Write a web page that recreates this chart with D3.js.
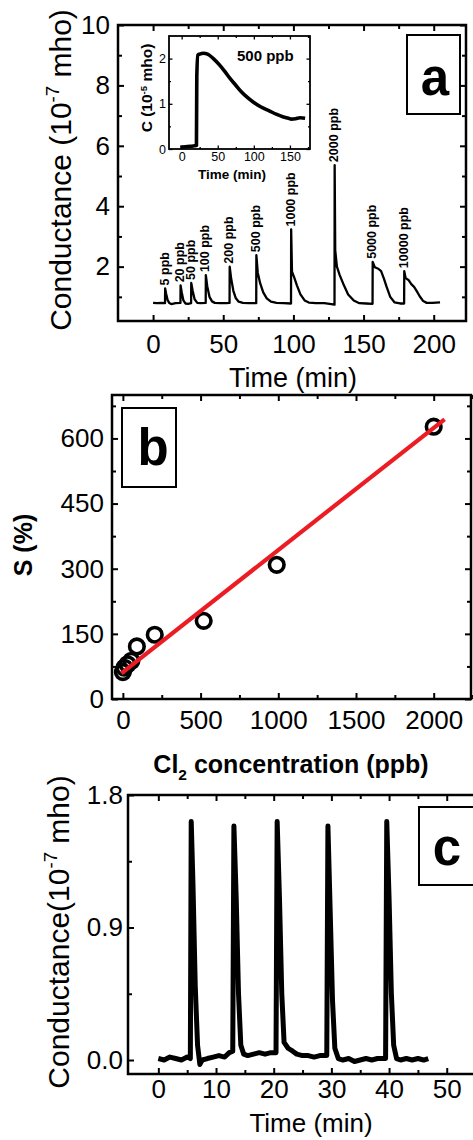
<!DOCTYPE html>
<html>
<head>
<meta charset="utf-8">
<script src="https://cdn.jsdelivr.net/npm/d3@7"></script>
<style>
  html, body { margin: 0; padding: 0; background: #fff; }
  svg { display: block; font-family: 'Liberation Sans', Arial, Helvetica, sans-serif; }
</style>
</head>
<body>
<svg id="chart" width="473" height="1140"></svg>
<script>
// ---- panel a: conductance response to Cl2 pulses (time min, 1e-7 mho)
var seriesA = [
  [0,0.80],[3,0.79],[6,0.80],[8.5,0.79],[8.6,1.28],[9.3,1.10],[10.3,0.90],[11.5,0.80],[13,0.76],[16,0.79],
  [19.5,0.80],[19.6,1.38],[20.4,1.15],[21.6,0.88],[23,0.78],[25,0.77],
  [27.1,0.79],[27.2,1.46],[28.2,1.20],[29.6,0.92],[31.5,0.80],[34,0.79],
  [37.5,0.80],[37.6,1.72],[38.6,1.35],[40.2,1.00],[42,0.85],[44,0.80],[48,0.79],[52,0.79],
  [54.5,0.80],[54.6,2.00],[55.6,1.62],[57.2,1.20],[59,0.95],[61,0.84],[64,0.80],[68,0.79],
  [73.5,0.79],[73.6,2.38],[74.6,1.80],[76.3,1.45],[78.5,1.15],[81,0.95],[84,0.84],[88,0.80],[93,0.79],
  [98.3,0.78],[98.4,3.23],[99,1.83],[100.5,1.65],[102.5,1.38],[105,1.08],[108,0.88],[111,0.81],[116,0.79],[122,0.79],[127,0.76],[129.3,0.74],
  [129.4,5.36],[129.8,2.55],[131,2.00],[133,1.72],[136,1.38],[139,1.08],[143,0.88],[147,0.79],[152,0.78],[156.4,0.77],
  [156.5,2.16],[158,1.98],[160.5,1.93],[162.5,1.85],[164.5,1.60],[166.5,1.32],[169,1.00],[172,0.82],[176,0.78],[178.9,0.78],
  [179,1.85],[180,1.62],[182,1.56],[184,1.42],[186,1.33],[188,1.18],[190,1.02],[192.5,0.86],[195,0.80],[199,0.80],[204.5,0.82]
];
var peakLabels = ['5 ppb', '20 ppb', '50 ppb', '100 ppb', '200 ppb', '500 ppb', '1000 ppb', '2000 ppb', '5000 ppb', '10000 ppb'];
var peakTimes = [8.6, 19.6, 27.2, 37.6, 54.6, 73.6, 98.4, 129.4, 156.5, 179];
var peakValues = [1.28, 1.38, 1.46, 1.72, 2.00, 2.38, 3.23, 5.36, 2.16, 1.85];

// inset: single 500 ppb pulse (1e-5 mho)
var insetTime = [-2, 5, 12, 18, 20.5, 21, 22.5, 25, 30, 36, 44, 53, 60, 67, 75, 83, 91, 99, 110, 122, 131, 141, 148, 152, 158, 164, 171];
var insetCond = [0.04, 0.05, 0.06, 0.07, 0.08, 1.60, 2.08, 2.10, 2.12, 2.10, 2.00, 1.85, 1.71, 1.56, 1.41, 1.26, 1.14, 1.04, 0.93, 0.84, 0.77, 0.71, 0.68, 0.66, 0.67, 0.69, 0.68];

// ---- panel b: sensitivity vs concentration
var concB = [0, 10, 30, 55, 90, 205, 520, 990, 2000];
var sensB = [62, 72, 80, 88, 121, 148, 180, 309, 627];
var fitConc = [-10, 2070];
var fitSens = [59, 644];

// ---- panel c: repeated 1000 ppb pulses
var seriesC = [
  [0,0.01],[1,0.00],[2,0.02],[3,0.01],[4,0.00],[5,0.02],[5.55,0.01],[5.7,1.62],[6.0,1.20],[6.4,0.50],[6.8,0.10],[7.2,-0.03],[7.6,0.00],
  [8.5,0.01],[9.5,0.02],[10.5,0.03],[11.5,0.02],[12.3,0.05],[12.9,0.06],[13.1,1.59],[13.5,1.10],[13.9,0.45],[14.3,0.10],[14.8,0.04],
  [15.5,0.03],[16.5,0.04],[17.5,0.05],[18.5,0.04],[19.5,0.05],[20.4,0.05],[20.6,1.62],[21.0,1.10],[21.4,0.45],[21.8,0.12],[22.5,0.08],
  [23.3,0.06],[24,0.04],[25,0.03],[26,0.03],[27,0.02],[28,0.03],[29.2,0.03],[29.4,1.59],[29.8,1.00],[30.2,0.40],[30.6,0.08],[31.2,0.01],
  [32,0.00],[33,0.01],[34,-0.01],[35,0.00],[36,0.01],[37,0.00],[38,0.01],[39.4,0.01],[39.6,1.62],[40.0,1.10],[40.4,0.45],[40.8,0.10],
  [41.3,0.01],[42,0.00],[43,0.01],[44,0.00],[45,0.01],[46,0.00],[46.8,0.01]
];

var svg = d3.select('#chart');
svg.append('rect').attr('width', 473).attr('height', 1140).attr('fill', '#fff');

function blank() { return ''; }

// framed box with inward ticks on all four sides
function drawFrame(g, x, y, o) {
  var xl = x.range()[0], xr = x.range()[1], yb = y.range()[0], yt = y.range()[1];
  function ax(fn, scale, vals, len, fmt, tx, ty, pad) {
    var a = fn(scale).tickValues(vals).tickSize(-len).tickPadding(pad || 0).tickFormat(fmt || blank);
    var s = g.append('g').attr('transform', 'translate(' + tx + ',' + ty + ')').call(a);
    s.attr('font-family', null).attr('font-size', null);
    s.select('.domain').remove();
    s.selectAll('line').attr('stroke', '#000').attr('stroke-width', o.tickW);
    s.selectAll('text').attr('font-size', o.fontSize).attr('fill', '#000');
  }
  ax(d3.axisBottom, x, o.xMajor, o.major, o.xFmt, 0, yb, o.xPad);
  ax(d3.axisBottom, x, o.xMinor, o.minor, null, 0, yb);
  ax(d3.axisTop, x, o.xMajor, o.major, null, 0, yt);
  ax(d3.axisTop, x, o.xMinor, o.minor, null, 0, yt);
  ax(d3.axisLeft, y, o.yMajor, o.major, o.yFmt, xl, 0, o.yPad);
  ax(d3.axisLeft, y, o.yMinor, o.minor, null, xl, 0);
  ax(d3.axisRight, y, o.yMajor, o.major, null, xr, 0);
  ax(d3.axisRight, y, o.yMinor, o.minor, null, xr, 0);
  g.append('rect')
    .attr('x', xl).attr('y', yt)
    .attr('width', xr - xl).attr('height', yb - yt)
    .attr('fill', 'none').attr('stroke', '#000').attr('stroke-width', o.frameW);
}

// text with super/subscript pieces
function addRich(t, parts, size) {
  var shift = 0;
  parts.forEach(function (p) {
    var ts = t.append('tspan').text(p[0]);
    var target = p[1] === 'sup' ? -0.38 * size : (p[1] === 'sub' ? 0.28 * size : 0);
    if (p[1]) ts.attr('font-size', size * 0.62);
    ts.attr('dy', target - shift);
    shift = target;
  });
}

function yTitle(g, cx, cy, size, weight, parts) {
  var t = g.append('text')
    .attr('transform', 'translate(' + cx + ',' + cy + ') rotate(-90)')
    .attr('y', size * 0.35)
    .attr('text-anchor', 'middle')
    .attr('font-size', size)
    .attr('font-weight', weight);
  addRich(t, parts, size);
}

function labelBox(g, bx, by, bw, bh, letter, lx, ly) {
  g.append('rect').attr('x', bx).attr('y', by).attr('width', bw).attr('height', bh)
    .attr('fill', '#fff').attr('stroke', '#000').attr('stroke-width', 2);
  g.append('text').attr('x', lx).attr('y', ly).attr('text-anchor', 'middle')
    .attr('font-size', 51).attr('font-weight', 'bold').text(letter);
}

// ================= panel a =================
var gA = svg.append('g');
var xA = d3.scaleLinear().domain([-25, 223]).range([118, 466]);
var yA = d3.scaleLinear().domain([0.2, 10]).range([321, 25]);
drawFrame(gA, xA, yA, {
  xMajor: [0, 50, 100, 150, 200], xMinor: [25, 75, 125, 175],
  yMajor: [2, 4, 6, 8, 10], yMinor: [1, 3, 5, 7, 9],
  xFmt: d3.format('d'), yFmt: d3.format('d'),
  major: 6, minor: 4, tickW: 2, frameW: 2.5, fontSize: 26, xPad: 14, yPad: 8
});
gA.append('path')
  .datum(seriesA)
  .attr('fill', 'none').attr('stroke', '#000').attr('stroke-width', 2.3).attr('stroke-linejoin', 'round')
  .attr('d', d3.line().x(function (d) { return xA(d[0]); }).y(function (d) { return yA(d[1]); }));

peakLabels.forEach(function (lab, i) {
  gA.append('text')
    .attr('transform', 'translate(' + (xA(peakTimes[i]) + 3.5) + ',' + (yA(peakValues[i]) - 3) + ') rotate(-90)')
    .attr('font-size', 12.5).attr('font-weight', 'bold')
    .text(lab);
});

gA.append('text').attr('x', 293).attr('y', 387).attr('text-anchor', 'middle')
  .attr('font-size', 27).text('Time (min)');
yTitle(gA, 60, 170, 30, 'normal', [['Conductance (10'], ['-7', 'sup'], [' mho)']]);
labelBox(gA, 407, 35, 53, 79, 'a', 435, 95);

// inset
var gI = svg.append('g');
var xI = d3.scaleLinear().domain([-17.5, 177.8]).range([169, 310]);
var yI = d3.scaleLinear().domain([0, 2.5]).range([149, 36]);
gI.append('rect').attr('x', 169).attr('y', 36).attr('width', 141).attr('height', 113).attr('fill', '#fff');
drawFrame(gI, xI, yI, {
  xMajor: [0, 50, 100, 150], xMinor: [25, 75, 125, 175],
  yMajor: [0, 1, 2], yMinor: [0.5, 1.5],
  xFmt: d3.format('d'), yFmt: d3.format('d'),
  major: 3.5, minor: 2, tickW: 1.3, frameW: 1.8, fontSize: 12.5, xPad: 3.5, yPad: 3
});
gI.append('path')
  .datum(d3.zip(insetTime, insetCond))
  .attr('fill', 'none').attr('stroke', '#000').attr('stroke-width', 3.6).attr('stroke-linejoin', 'round')
  .attr('d', d3.line().curve(d3.curveMonotoneX).x(function (d) { return xI(d[0]); }).y(function (d) { return yI(d[1]); }));
gI.append('text').attr('x', 237).attr('y', 61).attr('font-size', 15).attr('font-weight', 'bold').text('500 ppb');
gI.append('text').attr('x', 232).attr('y', 179).attr('text-anchor', 'middle')
  .attr('font-size', 13.5).attr('font-weight', 'bold').text('Time (min)');
yTitle(gI, 147, 88, 15.5, 'bold', [['C (10'], ['-5', 'sup'], [' mho)']]);

// ================= panel b =================
var gB = svg.append('g');
var xB = d3.scaleLinear().domain([-70, 2240]).range([112, 471]);
var yB = d3.scaleLinear().domain([0, 700]).range([699, 395]);
drawFrame(gB, xB, yB, {
  xMajor: [0, 500, 1000, 1500, 2000], xMinor: [250, 750, 1250, 1750, 2250],
  yMajor: [0, 150, 300, 450, 600], yMinor: [75, 225, 375, 525, 675],
  xFmt: d3.format('d'), yFmt: d3.format('d'),
  major: 6, minor: 4, tickW: 2, frameW: 2.5, fontSize: 26, xPad: 12, yPad: 8
});
labelBox(gB, 122, 408, 54, 79, 'b', 153, 465);
gB.selectAll('circle.pt')
  .data(d3.zip(concB, sensB))
  .join('circle')
  .attr('class', 'pt')
  .attr('cx', function (d) { return xB(d[0]); })
  .attr('cy', function (d) { return yB(d[1]); })
  .attr('r', 7.3)
  .attr('fill', 'none').attr('stroke', '#000').attr('stroke-width', 3.6);
gB.append('path')
  .datum(d3.zip(fitConc, fitSens))
  .attr('fill', 'none').attr('stroke', '#ec1c24').attr('stroke-width', 4.2)
  .attr('d', d3.line().x(function (d) { return xB(d[0]); }).y(function (d) { return yB(d[1]); }));

var tB = gB.append('text').attr('x', 291).attr('y', 773).attr('text-anchor', 'middle')
  .attr('font-size', 25).attr('font-weight', 'bold');
addRich(tB, [['Cl'], ['2', 'sub'], [' concentration (ppb)']], 25);
yTitle(gB, 23, 545, 25, 'bold', [['S (%)']]);

// ================= panel c =================
var gC = svg.append('g');
var xC = d3.scaleLinear().domain([-5.26, 57.5]).range([128, 490]);
var yC = d3.scaleLinear().domain([-0.095, 1.8]).range([1074, 795]);
drawFrame(gC, xC, yC, {
  xMajor: [0, 10, 20, 30, 40, 50], xMinor: [5, 15, 25, 35, 45, 55],
  yMajor: [0, 0.9, 1.8], yMinor: [0.45, 1.35],
  xFmt: d3.format('d'), yFmt: d3.format('.1f'),
  major: 6, minor: 4, tickW: 2, frameW: 2.5, fontSize: 26, xPad: 6, yPad: 5
});
gC.append('path')
  .datum(seriesC)
  .attr('fill', 'none').attr('stroke', '#000').attr('stroke-width', 5).attr('stroke-linejoin', 'round')
  .attr('d', d3.line().x(function (d) { return xC(d[0]); }).y(function (d) { return yC(d[1]); }));
labelBox(gC, 419, 807, 62, 78, 'c', 447, 865);
gC.append('text').attr('x', 311).attr('y', 1132).attr('text-anchor', 'middle')
  .attr('font-size', 26).text('Time (min)');
yTitle(gC, 58, 932, 30, 'normal', [['Conductance(10'], ['-7', 'sup'], [' mho)']]);
</script>
</body>
</html>
